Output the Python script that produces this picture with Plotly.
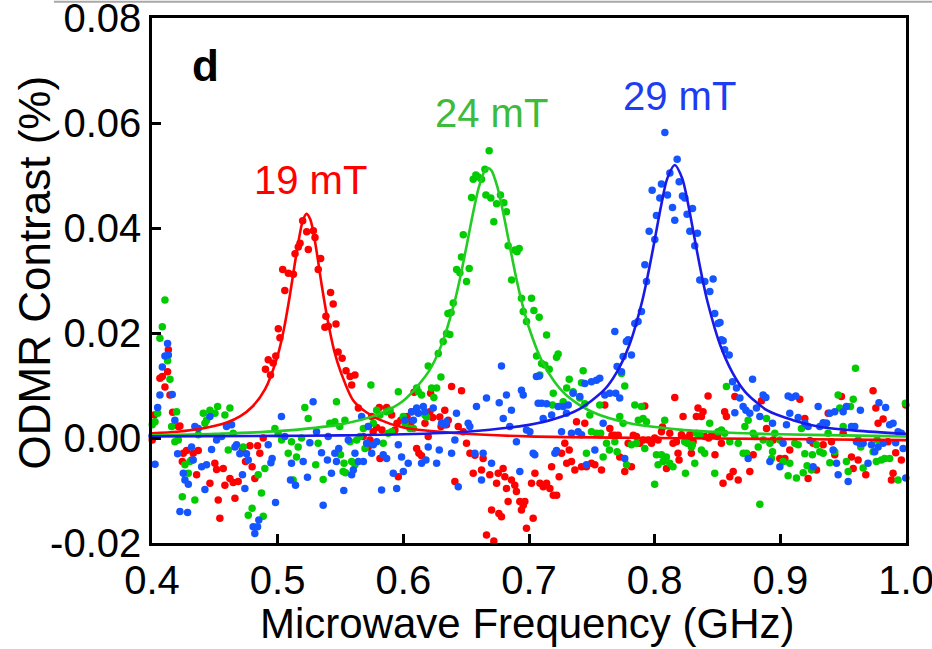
import plotly.graph_objects as go

# ---------------- data ----------------
red_x = [0.4002,0.4018,0.4063,0.4082,0.4103,0.4124,0.4130,0.4143,0.4164,0.4210,0.4222,0.4241,0.4249,0.4275,0.4315,0.4328,0.4355,0.4368,0.4461,0.4500,0.4514,0.4527,0.4540,0.4567,0.4580,0.4620,0.4646,0.4660,0.4686,0.4718,0.4744,0.4779,0.4797,0.4818,0.4840,0.4858,0.4885,0.4903,0.4925,0.4943,0.4964,0.4985,0.5005,0.5018,0.5040,0.5057,0.5085,0.5125,0.5138,0.5164,0.5178,0.5199,0.5231,0.5244,0.5284,0.5297,0.5323,0.5342,0.5376,0.5384,0.5403,0.5421,0.5442,0.5464,0.5481,0.5513,0.5544,0.5576,0.5589,0.5615,0.5642,0.5680,0.5720,0.5735,0.5748,0.5760,0.5788,0.5809,0.5814,0.5830,0.5867,0.5907,0.5933,0.5950,0.5960,0.5980,0.6030,0.6045,0.6060,0.6066,0.6085,0.6106,0.6124,0.6145,0.6172,0.6198,0.6211,0.6217,0.6233,0.6290,0.6300,0.6330,0.6344,0.6357,0.6384,0.6410,0.6437,0.6463,0.6477,0.6503,0.6530,0.6556,0.6570,0.6622,0.6635,0.6662,0.6688,0.6702,0.6720,0.6742,0.6755,0.6760,0.6781,0.6794,0.6808,0.6821,0.6834,0.6860,0.6887,0.6900,0.6927,0.6940,0.6954,0.6967,0.6980,0.7020,0.7033,0.7047,0.7087,0.7113,0.7140,0.7166,0.7180,0.7193,0.7220,0.7240,0.7259,0.7285,0.7300,0.7320,0.7338,0.7365,0.7378,0.7418,0.7444,0.7457,0.7497,0.7524,0.7563,0.7577,0.7603,0.7643,0.7660,0.7683,0.7710,0.7722,0.7762,0.7789,0.7815,0.7830,0.7855,0.7881,0.7908,0.7921,0.7950,0.7975,0.8000,0.8027,0.8054,0.8062,0.8094,0.8120,0.8146,0.8160,0.8173,0.8186,0.8194,0.8213,0.8226,0.8253,0.8280,0.8292,0.8306,0.8332,0.8345,0.8372,0.8385,0.8400,0.8425,0.8430,0.8455,0.8480,0.8500,0.8531,0.8544,0.8557,0.8571,0.8598,0.8625,0.8638,0.8665,0.8757,0.8784,0.8850,0.8890,0.8943,0.8996,0.9022,0.9036,0.9075,0.9155,0.9195,0.9221,0.9261,0.9288,0.9341,0.9381,0.9407,0.9433,0.9486,0.9500,0.9566,0.9580,0.9619,0.9680,0.9738,0.9760,0.9778,0.9818,0.9857,0.9884,0.9897,0.9918,0.9963,0.9998]
red_y = [-0.0004,0.0044,0.0114,0.0117,0.0097,0.0126,0.0168,0.0082,0.0049,0.0022,0.0023,-0.0045,-0.0029,-0.0024,-0.0042,-0.0029,-0.0070,-0.0024,-0.0086,-0.0048,-0.0060,-0.0118,-0.0153,-0.0058,-0.0090,-0.0077,-0.0085,-0.0115,-0.0083,-0.0024,-0.0045,-0.0015,-0.0055,-0.0077,-0.0015,-0.0029,0.0000,0.0131,0.0149,0.0120,0.0143,0.0156,0.0208,0.0191,0.0321,0.0281,0.0314,0.0312,0.0351,0.0364,0.0371,0.0414,0.0393,0.0359,0.0395,0.0382,0.0321,0.0342,0.0211,0.0232,0.0213,0.0277,0.0255,0.0217,0.0164,0.0152,0.0128,0.0117,0.0101,0.0120,0.0057,0.0003,-0.0017,-0.0004,0.0041,0.0012,0.0020,0.0058,-0.0039,0.0015,0.0058,0.0044,0.0015,0.0028,-0.0074,0.0034,0.0041,0.0031,0.0022,0.0050,0.0087,-0.0020,-0.0029,-0.0034,0.0028,0.0003,0.0050,0.0085,0.0039,0.0040,0.0022,0.0053,0.0025,0.0034,0.0098,-0.0083,0.0022,0.0090,0.0012,-0.0010,-0.0029,-0.0067,-0.0033,-0.0061,-0.0039,-0.0185,-0.0070,-0.0137,-0.0196,-0.0086,-0.0067,-0.0144,-0.0150,-0.0058,-0.0074,-0.0096,-0.0121,-0.0080,-0.0090,-0.0102,-0.0121,-0.0137,-0.0128,-0.0121,-0.0172,-0.0086,-0.0153,-0.0067,-0.0086,-0.0093,-0.0086,-0.0096,-0.0055,-0.0109,-0.0109,-0.0074,-0.0029,-0.0010,-0.0048,-0.0023,-0.0045,-0.0061,0.0031,-0.0055,0.0028,-0.0055,-0.0048,-0.0051,0.0006,-0.0061,0.0063,0.0018,0.0005,0.0005,0.0005,-0.0036,-0.0064,-0.0010,-0.0055,0.0005,0.0003,-0.0010,-0.0004,0.0061,-0.0004,-0.0010,0.0000,-0.0004,0.0012,0.0021,-0.0058,0.0009,-0.0010,0.0077,-0.0007,-0.0029,-0.0042,0.0006,0.0041,0.0000,0.0006,-0.0029,-0.0007,0.0041,0.0057,0.0041,0.0050,0.0003,0.0080,0.0000,0.0006,-0.0032,0.0003,-0.0010,-0.0086,0.0050,0.0041,-0.0074,-0.0064,0.0079,-0.0080,-0.0064,-0.0032,0.0071,0.0018,-0.0004,-0.0039,-0.0045,-0.0039,-0.0023,0.0074,0.0037,-0.0077,-0.0010,-0.0061,-0.0013,0.0047,-0.0007,-0.0032,0.0079,0.0009,-0.0036,-0.0058,-0.0042,-0.0070,0.0090,0.0057,0.0028,0.0036,-0.0007,-0.0080,-0.0067,-0.0028,-0.0042,0.0063]

green_x = [0.4002,0.4024,0.4045,0.4063,0.4082,0.4103,0.4124,0.4143,0.4156,0.4182,0.4196,0.4209,0.4241,0.4262,0.4289,0.4302,0.4341,0.4368,0.4408,0.4421,0.4434,0.4461,0.4501,0.4522,0.4580,0.4607,0.4620,0.4646,0.4726,0.4766,0.4797,0.4845,0.4871,0.4885,0.4898,0.4978,0.5004,0.5031,0.5084,0.5110,0.5123,0.5150,0.5163,0.5190,0.5216,0.5243,0.5303,0.5322,0.5362,0.5415,0.5455,0.5468,0.5494,0.5500,0.5521,0.5528,0.5535,0.5540,0.5576,0.5589,0.5615,0.5629,0.5655,0.5682,0.5695,0.5721,0.5742,0.5761,0.5788,0.5814,0.5840,0.5867,0.5880,0.5894,0.5907,0.5960,0.6000,0.6013,0.6053,0.6080,0.6106,0.6119,0.6145,0.6172,0.6185,0.6198,0.6225,0.6243,0.6265,0.6278,0.6299,0.6317,0.6344,0.6355,0.6370,0.6380,0.6397,0.6424,0.6450,0.6463,0.6477,0.6503,0.6524,0.6543,0.6556,0.6577,0.6596,0.6622,0.6649,0.6657,0.6683,0.6696,0.6720,0.6742,0.6773,0.6800,0.6821,0.6834,0.6861,0.6887,0.6905,0.6922,0.6940,0.6954,0.6980,0.7020,0.7039,0.7060,0.7081,0.7086,0.7100,0.7126,0.7140,0.7161,0.7187,0.7193,0.7219,0.7232,0.7272,0.7300,0.7320,0.7351,0.7404,0.7418,0.7431,0.7444,0.7457,0.7484,0.7497,0.7537,0.7563,0.7570,0.7590,0.7617,0.7640,0.7683,0.7701,0.7722,0.7736,0.7749,0.7762,0.7776,0.7815,0.7842,0.7855,0.7870,0.7895,0.7908,0.7921,0.7935,0.8000,0.8014,0.8027,0.8054,0.8067,0.8080,0.8093,0.8120,0.8146,0.8239,0.8245,0.8260,0.8292,0.8300,0.8319,0.8332,0.8360,0.8372,0.8398,0.8438,0.8478,0.8504,0.8531,0.8557,0.8571,0.8598,0.8665,0.8704,0.8718,0.8731,0.8744,0.8784,0.8797,0.8824,0.8837,0.8864,0.8890,0.8917,0.8930,0.8938,0.8956,0.8996,0.9022,0.9062,0.9075,0.9115,0.9128,0.9142,0.9168,0.9182,0.9195,0.9213,0.9248,0.9255,0.9288,0.9314,0.9341,0.9367,0.9380,0.9394,0.9433,0.9460,0.9473,0.9500,0.9526,0.9540,0.9558,0.9580,0.9598,0.9620,0.9640,0.9659,0.9738,0.9764,0.9770,0.9804,0.9830,0.9870,0.9937,0.9995]
green_y = [0.0025,0.0031,0.0047,0.0190,0.0212,0.0263,0.0147,0.0112,0.0022,-0.0007,0.0050,-0.0004,-0.0112,-0.0051,-0.0067,-0.0045,-0.0118,0.0006,0.0047,0.0028,0.0034,0.0053,0.0047,0.0060,0.0044,-0.0023,0.0057,0.0009,-0.0017,-0.0147,-0.0134,-0.0070,-0.0105,-0.0149,-0.0058,0.0018,0.0008,-0.0004,-0.0029,-0.0007,-0.0080,-0.0036,-0.0017,0.0000,0.0058,0.0037,-0.0051,-0.0010,-0.0079,0.0028,0.0031,0.0069,0.0022,-0.0032,-0.0064,-0.0048,0.0034,-0.0066,-0.0007,-0.0045,-0.0051,-0.0004,0.0003,0.0018,-0.0020,0.0022,0.0101,0.0028,0.0053,0.0044,-0.0010,0.0050,0.0009,0.0053,0.0012,0.0088,0.0041,0.0028,0.0018,0.0018,0.0095,0.0088,0.0082,0.0044,0.0040,0.0137,0.0095,0.0077,0.0095,0.0161,0.0116,0.0184,0.0199,0.0237,0.0197,0.0239,0.0257,0.0321,0.0315,0.0345,0.0387,0.0298,0.0323,0.0458,0.0493,0.0501,0.0497,0.0493,0.0512,0.0463,0.0547,0.0457,0.0412,0.0446,0.0463,0.0448,0.0431,0.0366,0.0301,0.0358,0.0355,0.0361,0.0266,0.0241,0.0222,0.0266,0.0243,0.0156,0.0230,0.0120,0.0142,0.0139,0.0196,0.0131,0.0063,0.0085,0.0154,0.0160,0.0069,0.0095,0.0112,0.0088,0.0076,0.0105,0.0128,0.0065,-0.0029,0.0044,0.0012,0.0009,0.0063,0.0009,-0.0036,-0.0010,-0.0023,-0.0007,-0.0026,0.0041,0.0123,0.0028,0.0099,-0.0051,-0.0013,0.0063,-0.0010,0.0034,0.0060,0.0037,-0.0020,0.0031,-0.0088,-0.0032,-0.0051,-0.0032,-0.0045,0.0034,-0.0036,-0.0048,-0.0055,-0.0007,-0.0067,-0.0010,-0.0017,-0.0013,-0.0048,0.0009,0.0006,-0.0023,-0.0029,0.0028,-0.0067,0.0012,0.0015,0.0009,0.0098,-0.0007,-0.0010,-0.0029,0.0022,-0.0029,0.0034,0.0009,0.0003,-0.0017,-0.0126,-0.0004,0.0037,-0.0010,-0.0039,-0.0026,0.0009,-0.0004,-0.0045,-0.0072,-0.0048,-0.0010,-0.0076,-0.0013,0.0018,-0.0066,-0.0030,-0.0053,-0.0061,-0.0032,-0.0013,-0.0026,-0.0029,0.0028,0.0009,-0.0047,-0.0026,0.0082,0.0057,0.0022,-0.0045,-0.0064,0.0060,0.0074,0.0133,-0.0004,-0.0017,-0.0057,-0.0026,-0.0045,-0.0004,-0.0042,-0.0039,-0.0039,-0.0080,0.0066]

blue_x = [0.4000,0.4024,0.4045,0.4063,0.4082,0.4103,0.4124,0.4130,0.4161,0.4182,0.4204,0.4222,0.4249,0.4262,0.4283,0.4289,0.4315,0.4328,0.4341,0.4368,0.4395,0.4421,0.4434,0.4461,0.4474,0.4514,0.4554,0.4593,0.4633,0.4660,0.4673,0.4699,0.4720,0.4739,0.4752,0.4766,0.4805,0.4818,0.4840,0.4850,0.4925,0.4946,0.4956,0.4983,0.5030,0.5057,0.5102,0.5110,0.5142,0.5203,0.5237,0.5256,0.5282,0.5309,0.5349,0.5362,0.5396,0.5402,0.5428,0.5455,0.5468,0.5486,0.5526,0.5562,0.5589,0.5602,0.5615,0.5642,0.5668,0.5682,0.5708,0.5721,0.5748,0.5761,0.5788,0.5827,0.5840,0.5867,0.5920,0.5947,0.5960,0.5986,0.6000,0.6013,0.6039,0.6066,0.6080,0.6106,0.6119,0.6145,0.6159,0.6172,0.6180,0.6198,0.6238,0.6265,0.6286,0.6304,0.6330,0.6344,0.6384,0.6410,0.6423,0.6437,0.6516,0.6529,0.6569,0.6582,0.6622,0.6635,0.6662,0.6702,0.6763,0.6781,0.6795,0.6821,0.6847,0.6860,0.6900,0.6927,0.6940,0.6954,0.6980,0.7007,0.7033,0.7046,0.7059,0.7073,0.7081,0.7100,0.7113,0.7140,0.7180,0.7206,0.7219,0.7232,0.7259,0.7272,0.7298,0.7312,0.7338,0.7351,0.7391,0.7404,0.7418,0.7444,0.7457,0.7497,0.7524,0.7537,0.7563,0.7590,0.7603,0.7643,0.7683,0.7690,0.7701,0.7722,0.7736,0.7749,0.7762,0.7775,0.7789,0.7815,0.7842,0.7868,0.7895,0.7922,0.7935,0.7956,0.7980,0.8001,0.8014,0.8041,0.8054,0.8081,0.8102,0.8121,0.8142,0.8160,0.8179,0.8195,0.8221,0.8240,0.8258,0.8280,0.8301,0.8319,0.8340,0.8359,0.8399,0.8439,0.8465,0.8478,0.8504,0.8520,0.8531,0.8545,0.8557,0.8593,0.8620,0.8638,0.8651,0.8678,0.8704,0.8726,0.8744,0.8757,0.8779,0.8810,0.8837,0.8863,0.8885,0.8917,0.8938,0.8996,0.9022,0.9049,0.9062,0.9075,0.9089,0.9123,0.9142,0.9195,0.9221,0.9235,0.9261,0.9301,0.9314,0.9341,0.9367,0.9394,0.9420,0.9433,0.9447,0.9460,0.9500,0.9526,0.9540,0.9566,0.9592,0.9606,0.9632,0.9637,0.9659,0.9698,0.9725,0.9751,0.9778,0.9785,0.9818,0.9838,0.9870,0.9897,0.9918,0.9937,0.9963,0.9977,0.9998]
blue_y = [0.0004,-0.0050,0.0058,0.0082,0.0135,0.0156,0.0180,0.0158,0.0083,0.0034,-0.0030,-0.0140,-0.0067,-0.0080,-0.0142,-0.0088,-0.0017,-0.0042,0.0022,0.0018,-0.0055,-0.0098,-0.0051,0.0041,-0.0022,-0.0004,0.0003,0.0022,0.0025,-0.0017,-0.0013,-0.0030,-0.0070,-0.0096,-0.0030,-0.0042,-0.0169,-0.0182,-0.0169,-0.0156,-0.0013,-0.0047,-0.0039,-0.0123,0.0041,0.0003,-0.0080,-0.0048,-0.0090,-0.0045,-0.0075,-0.0009,0.0069,0.0012,-0.0028,-0.0128,-0.0042,0.0003,-0.0067,-0.0029,-0.0045,-0.0020,-0.0100,-0.0004,-0.0070,-0.0061,-0.0029,-0.0045,0.0041,-0.0045,-0.0010,0.0022,-0.0029,-0.0013,-0.0007,-0.0099,-0.0032,-0.0039,-0.0067,-0.0096,-0.0013,-0.0036,-0.0064,0.0034,-0.0048,0.0050,0.0034,0.0057,0.0047,-0.0048,0.0060,0.0050,-0.0042,-0.0017,0.0057,-0.0048,-0.0023,0.0028,0.0025,0.0031,-0.0029,-0.0004,0.0047,-0.0093,0.0028,0.0022,-0.0029,0.0060,-0.0080,-0.0029,0.0076,-0.0048,0.0067,0.0137,0.0037,0.0082,0.0022,0.0053,-0.0007,-0.0064,0.0091,0.0082,0.0015,0.0012,-0.0029,-0.0032,0.0117,0.0066,0.0118,0.0066,0.0037,0.0065,0.0044,-0.0029,-0.0024,0.0060,0.0012,0.0060,0.0047,0.0063,0.0009,0.0085,0.0012,0.0079,0.0006,0.0104,-0.0051,0.0107,-0.0023,0.0110,0.0114,0.0028,0.0082,0.0085,0.0203,0.0085,0.0136,0.0076,0.0126,0.0155,-0.0039,0.0184,0.0187,0.0158,0.0218,0.0222,0.0241,0.0330,0.0298,0.0394,0.0472,0.0378,0.0424,0.0457,0.0484,0.0582,0.0463,0.0505,0.0439,0.0415,0.0531,0.0488,0.0461,0.0457,0.0426,0.0394,0.0437,0.0366,0.0390,0.0301,0.0298,0.0279,0.0303,0.0237,0.0218,0.0220,0.0187,0.0185,0.0168,0.0158,0.0107,0.0048,0.0095,0.0076,0.0060,0.0053,-0.0039,0.0047,0.0112,0.0057,0.0041,0.0082,0.0077,-0.0045,0.0028,-0.0055,-0.0010,0.0025,0.0080,0.0047,0.0077,0.0080,0.0039,0.0028,0.0022,-0.0005,-0.0055,0.0060,0.0022,0.0029,0.0028,0.0047,-0.0023,0.0050,-0.0048,-0.0070,0.0050,0.0060,-0.0083,0.0022,0.0022,-0.0007,-0.0010,0.0053,-0.0010,-0.0048,-0.0013,-0.0026,-0.0017,0.0067,-0.0010,0.0058,0.0025,0.0028,-0.0009,0.0012,0.0009,-0.0020,-0.0076]

# fitted curves
red_fit_x = [0.40,0.42,0.44,0.46,0.47,0.48,0.49,0.50,0.505,0.51,0.515,0.52,0.523,0.526,0.53,0.535,0.54,0.545,0.55,0.56,0.57,0.58,0.60,0.65,0.70,0.80,0.90,1.00]
red_fit_y = [0.0009,0.0012,0.0018,0.0030,0.0041,0.0060,0.0093,0.0157,0.0208,0.0276,0.0352,0.0414,0.0427,0.0416,0.0370,0.0292,0.0222,0.0166,0.0127,0.0072,0.0050,0.0036,0.0020,0.0008,0.0003,0.0000,-0.0002,-0.0004]
green_fit_x = [0.40,0.45,0.50,0.55,0.58,0.60,0.62,0.63,0.64,0.645,0.65,0.655,0.66,0.665,0.6675,0.67,0.675,0.68,0.685,0.69,0.695,0.70,0.71,0.72,0.73,0.75,0.78,0.82,0.86,0.90,0.95,1.00]
green_fit_y = [0.0005,0.0008,0.0013,0.0026,0.0045,0.0071,0.0126,0.0175,0.0252,0.0303,0.0362,0.0423,0.0477,0.0510,0.0514,0.0510,0.0477,0.0423,0.0362,0.0303,0.0252,0.0210,0.0148,0.0108,0.0081,0.0050,0.0028,0.0016,0.0010,0.0007,0.0005,0.0003]
blue_fit_x = [0.40,0.50,0.55,0.60,0.65,0.70,0.72,0.74,0.76,0.77,0.78,0.79,0.795,0.80,0.805,0.81,0.816,0.822,0.827,0.832,0.837,0.842,0.852,0.862,0.872,0.89,0.91,0.93,0.96,1.00]
blue_fit_y = [0.0003,0.0004,0.0005,0.0007,0.0012,0.0025,0.0036,0.0055,0.0092,0.0126,0.0178,0.0260,0.0315,0.0377,0.0441,0.0494,0.0520,0.0494,0.0441,0.0377,0.0315,0.0260,0.0178,0.0124,0.0088,0.0052,0.0034,0.0022,0.0014,0.0008]

x_ticks = [0.4, 0.5, 0.6, 0.7, 0.8, 0.9, 1.0]
x_tick_text = ["0.4", "0.5", "0.6", "0.7", "0.8", "0.9", "1.0"]
y_ticks = [-0.02, 0.0, 0.02, 0.04, 0.06, 0.08]
y_tick_text = ["-0.02", "0.00", "0.02", "0.04", "0.06", "0.08"]
x_range = [0.4, 1.0]
y_range = [-0.02, 0.08]

labels = ["19 mT", "24 mT", "29 mT"]
label_x = [0.5265, 0.6705, 0.8200]
label_y = [0.0491, 0.0619, 0.0651]

# ---------------- styles ----------------
RED = "#FF0000"
GREEN_PT = "#00CC00"
GREEN_LN = "#22CC22"
GREEN_TX = "#3CBB3C"
BLUE_PT = "#1555FF"
BLUE_LN = "#1A1AE6"
BLUE_TX = "#1E3CF0"
FONT = "Liberation Sans, Arial, sans-serif"

fig = go.Figure()
for xs, ys, c in [(red_x, red_y, RED), (green_x, green_y, GREEN_PT), (blue_x, blue_y, BLUE_PT)]:
    fig.add_trace(go.Scatter(x=xs, y=ys, mode="markers",
                             marker=dict(size=7.5, color=c, line=dict(width=0)),
                             showlegend=False, hoverinfo="skip", cliponaxis=False))
for xs, ys, c in [(red_fit_x, red_fit_y, RED), (green_fit_x, green_fit_y, GREEN_LN), (blue_fit_x, blue_fit_y, BLUE_LN)]:
    fig.add_trace(go.Scatter(x=xs, y=ys, mode="lines",
                             line=dict(color=c, width=2.6, shape="spline", smoothing=0.8),
                             showlegend=False, hoverinfo="skip"))

ann = []
for t, ax_, ay_, c in zip(labels, label_x, label_y, [RED, GREEN_TX, BLUE_TX]):
    ann.append(dict(x=ax_, y=ay_, xref="x", yref="y", text=t, showarrow=False,
                    font=dict(family=FONT, size=40, color=c), xanchor="center", yanchor="middle"))
ann.append(dict(x=0.4422, y=0.0709, xref="x", yref="y", text="<b>d</b>", showarrow=False,
                font=dict(family=FONT, size=44, color="black"), xanchor="center", yanchor="middle"))
ann.append(dict(x=0.4967, y=-0.154, xref="paper", yref="paper", text="Microwave Frequency (GHz)",
                showarrow=False, font=dict(family=FONT, size=42, color="black"),
                xanchor="center", yanchor="middle"))
ann.append(dict(x=-0.156, y=0.516, xref="paper", yref="paper", text="ODMR Contrast (%)",
                showarrow=False, textangle=-90, font=dict(family=FONT, size=44, color="black"),
                xanchor="center", yanchor="middle"))

axis_common = dict(showgrid=False, zeroline=False, showline=True, linecolor="black",
                   linewidth=2.5, mirror=True, ticks="inside", ticklen=9, tickwidth=2.5,
                   tickcolor="black", tickfont=dict(family=FONT, size=40, color="black"),
                   ticklabeloverflow="allow", automargin=False)

fig.update_layout(
    width=932, height=649,
    margin=dict(l=152, r=26, t=18, b=106, autoexpand=False),
    paper_bgcolor="white", plot_bgcolor="white",
    xaxis=dict(range=[x_range[0] - 1e-6, x_range[1] + 1e-6], tickvals=x_ticks,
               ticktext=x_tick_text, **axis_common),
    yaxis=dict(range=[y_range[0] - 1e-7, y_range[1] + 1e-7], tickvals=y_ticks,
               ticktext=y_tick_text, **axis_common),
    annotations=ann,
    shapes=[dict(type="line", xref="paper", yref="paper", x0=-0.13, x1=1.04, y0=1.031, y1=1.031,
                 line=dict(color="#A8A8A8", width=2))],
)

fig.write_html("out.html")
